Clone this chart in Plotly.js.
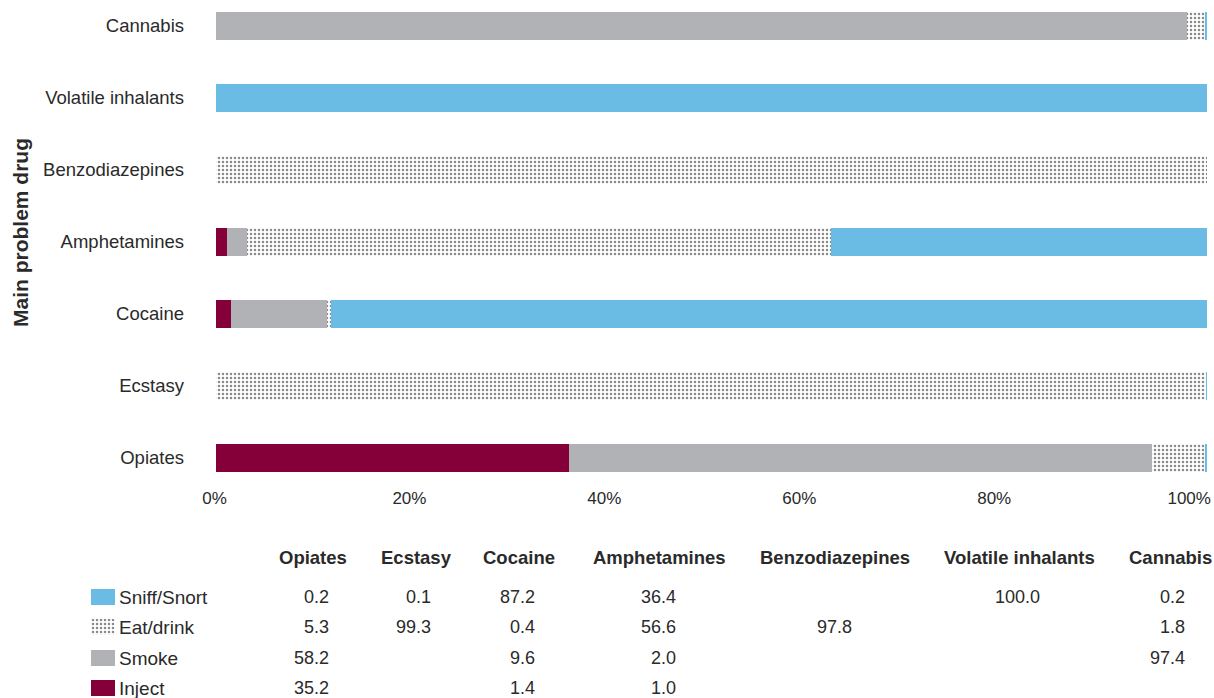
<!DOCTYPE html>
<html>
<head>
<meta charset="utf-8">
<script src="https://cdn.plot.ly/plotly-3.0.1.min.js"></script>
<style>
  html, body { margin: 0; padding: 0; background: #ffffff; }
  #chart { width: 1214px; height: 698px; }
</style>
</head>
<body>
<div id="chart"></div>
<script>
// ---------------- DATA ----------------
const categories = ['Opiates', 'Ecstasy', 'Cocaine', 'Amphetamines', 'Benzodiazepines', 'Volatile inhalants', 'Cannabis'];
const inject     = [35.2, null, 1.4, 1.0, null, null, null];
const smoke      = [58.2, null, 9.6, 2.0, null, null, 97.4];
const eatDrink   = [5.3, 99.3, 0.4, 56.6, 97.8, null, 1.8];
const sniffSnort = [0.2, 0.1, 87.2, 36.4, null, 100.0, 0.2];
const seriesNames = ['Inject', 'Smoke', 'Eat/drink', 'Sniff/Snort'];
const xTickLabels = ['0%', '20%', '40%', '60%', '80%', '100%'];
const yAxisTitle = 'Main problem drug';

// ---------------- STYLE / LAYOUT CONSTANTS ----------------
const W = 1214, H = 698;
const FONT = '"Liberation Sans", Arial, Helvetica, sans-serif';
const TXT = '#2a2a2a';
const colors = { 'Inject': '#850038', 'Smoke': '#b1b2b5', 'Eat/drink': '#ffffff', 'Sniff/Snort': '#6bbce4' };
const dotPattern = { shape: '.', fgcolor: '#8a8a8a', bgcolor: '#ffffff', size: 4, solidity: 0.3, fillmode: 'replace' };
const LABEL_SIZE = 18.5, VALUE_SIZE = 18, TICK_SIZE = 17, TITLE_SIZE = 21;

const seriesData = { 'Inject': inject, 'Smoke': smoke, 'Eat/drink': eatDrink, 'Sniff/Snort': sniffSnort };

// bars are drawn as share of each drug's total (the reference bars all fill the full width)
const totals = categories.map((c, i) => seriesNames.reduce((s, n) => s + (seriesData[n][i] || 0), 0));
const share = arr => arr.map((v, i) => v == null ? null : v / totals[i] * 100);

// pixel helpers for paper coords
const px = x => x / W;
const py = y => 1 - y / H;

const traces = [];
seriesNames.forEach(name => {
  const isDots = name === 'Eat/drink';
  const marker = { color: colors[name], line: { width: 0 } };
  if (isDots) marker.pattern = dotPattern;
  traces.push({
    type: 'bar', orientation: 'h', name: name,
    y: categories, x: share(seriesData[name]),
    marker: marker, width: 0.39, showlegend: false, hoverinfo: 'name+x'
  });
  // legend swatch in the table (drawn on a hidden helper axis)
  const m2 = { color: colors[name], line: { width: 0 } };
  if (isDots) m2.pattern = dotPattern;
  traces.push({
    type: 'bar', orientation: 'h', name: name,
    y: [name], x: [1], xaxis: 'x2', yaxis: 'y2',
    marker: m2, width: 0.53, showlegend: false, hoverinfo: 'skip'
  });
});

// tick label placement as it appears in the reference
const xTickVals = xTickLabels.map((t, k) => k * 19.68 - 0.2);

const annotations = [];
annotations.push({
  text: '<b>' + yAxisTitle + '</b>', xref: 'paper', yref: 'paper',
  x: px(20), y: py(233), textangle: -90, showarrow: false,
  xanchor: 'center', yanchor: 'middle', font: { family: FONT, size: TITLE_SIZE, color: TXT }
});

// table columns (same order as categories)
const colCenters = [313, 416, 519, 659, 835, 1019, 1170];
const colRights  = [330, 432, 536, 677, 853, 1041, 1186];
const headerY = 557;
const rowOrder = ['Sniff/Snort', 'Eat/drink', 'Smoke', 'Inject'];
const rowY = [597, 627, 658, 688];

categories.forEach((c, j) => {
  annotations.push({
    text: '<b>' + c + '</b>', xref: 'paper', yref: 'paper',
    x: px(colCenters[j]), y: py(headerY), showarrow: false,
    xanchor: 'center', yanchor: 'middle', font: { family: FONT, size: LABEL_SIZE, color: TXT }
  });
});
rowOrder.forEach((name, r) => {
  annotations.push({
    text: name, xref: 'paper', yref: 'paper',
    x: px(117), y: py(rowY[r]), showarrow: false,
    xanchor: 'left', yanchor: 'middle', font: { family: FONT, size: 19, color: TXT }
  });
  seriesData[name].forEach((v, j) => {
    if (v == null) return;
    annotations.push({
      text: v.toFixed(1), xref: 'paper', yref: 'paper',
      x: px(colRights[j] + 1), y: py(rowY[r]), showarrow: false,
      xanchor: 'right', yanchor: 'middle', font: { family: FONT, size: VALUE_SIZE, color: TXT }
    });
  });
});

const layout = {
  width: W, height: H,
  margin: { l: 0, r: 0, t: 0, b: 0, pad: 0 },
  paper_bgcolor: '#ffffff', plot_bgcolor: '#ffffff',
  barmode: 'stack',
  font: { family: FONT, size: LABEL_SIZE, color: TXT },
  showlegend: false,
  xaxis: {
    domain: [px(213), px(1207)], range: [-0.35, 100],
    tickvals: xTickVals, ticktext: xTickLabels,
    showgrid: false, zeroline: false, showline: false, ticks: '',
    tickfont: { family: FONT, size: TICK_SIZE, color: TXT }, automargin: false, fixedrange: true
  },
  yaxis: {
    domain: [py(486), 1], range: [-0.389, 6.36],
    type: 'category', categoryorder: 'array', categoryarray: categories,
    showgrid: false, zeroline: false, showline: false, ticks: '',
    ticklabelstandoff: 28,
    tickfont: { family: FONT, size: LABEL_SIZE, color: TXT }, automargin: false, fixedrange: true
  },
  xaxis2: {
    domain: [px(91), px(115)], range: [0, 1], anchor: 'y2',
    visible: false, fixedrange: true
  },
  yaxis2: {
    domain: [0, py(582)], range: [-0.33, 3.495], anchor: 'x2',
    type: 'category', categoryorder: 'array', categoryarray: seriesNames,
    visible: false, fixedrange: true
  },
  annotations: annotations
};

Plotly.newPlot('chart', traces, layout, { displayModeBar: false, staticPlot: true });
</script>
</body>
</html>
